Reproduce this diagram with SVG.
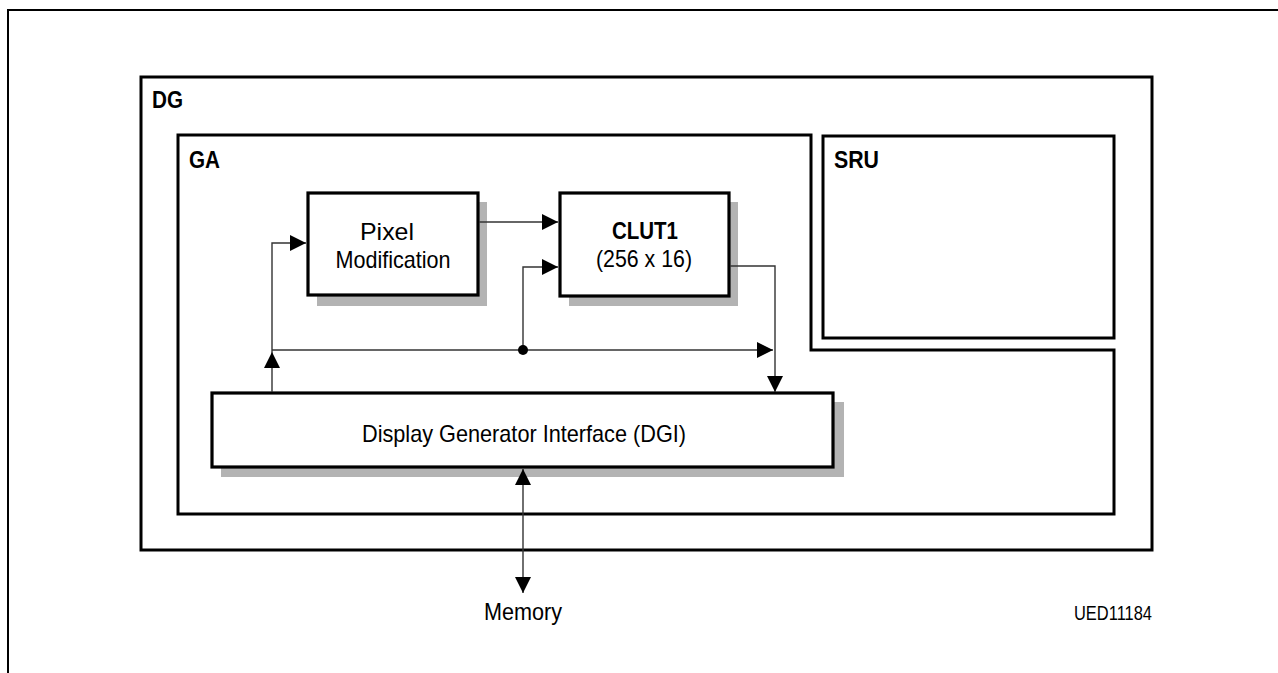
<svg xmlns="http://www.w3.org/2000/svg" width="1278" height="673" viewBox="0 0 1278 673">
<style>
.frame{fill:none;stroke:#000;stroke-width:3}
.box{fill:#fff;stroke:#000;stroke-width:3.2}
.shadow{fill:#b3b3b3}
.wire{fill:none;stroke:#333;stroke-width:1.4}
.lbl{font-family:"Liberation Sans",Arial,sans-serif;font-weight:bold;font-size:24px;fill:#000}
.txt{font-family:"Liberation Sans",Arial,sans-serif;font-size:24px;fill:#000}
.bold{font-weight:bold}
</style>
<defs>
<marker id="ah" markerUnits="userSpaceOnUse" markerWidth="16" markerHeight="16" viewBox="0 0 15 15" refX="15" refY="7.5" orient="auto-start-reverse">
<path d="M0,0 L15,7.5 L0,15 z" fill="#000"/>
</marker>
</defs>
<rect width="1278" height="673" fill="#fff"/>
<g id="page-frame">
<path d="M8,673 V10 H1278" fill="none" stroke="#000" stroke-width="2"/>
</g>
<g id="DG">
<rect class="frame" x="141" y="77" width="1011" height="473"/>
<text class="lbl" x="152" y="108" textLength="31" lengthAdjust="spacingAndGlyphs">DG</text>
</g>
<g id="GA">
<path class="frame" d="M178,135 H811 V350 H1114 V514 H178 Z"/>
<text class="lbl" x="189" y="168" textLength="31" lengthAdjust="spacingAndGlyphs">GA</text>
</g>
<g id="SRU">
<rect class="frame" x="823" y="136" width="291" height="202"/>
<text class="lbl" x="834" y="168" textLength="45" lengthAdjust="spacingAndGlyphs">SRU</text>
</g>
<g id="pixel-modification">
<rect class="shadow" x="317" y="202" width="170" height="104"/>
<rect class="box" x="308" y="193" width="170" height="102"/>
<text class="txt" x="387" y="240" text-anchor="middle" textLength="54" lengthAdjust="spacingAndGlyphs">Pixel</text>
<text class="txt" x="393" y="268" text-anchor="middle" textLength="115" lengthAdjust="spacingAndGlyphs">Modification</text>
</g>
<g id="CLUT1">
<rect class="shadow" x="569" y="202" width="169" height="104"/>
<rect class="box" x="560" y="193" width="169" height="103"/>
<text class="txt bold" x="645" y="239" text-anchor="middle" textLength="66" lengthAdjust="spacingAndGlyphs">CLUT1</text>
<text class="txt" x="644" y="267" text-anchor="middle" textLength="96" lengthAdjust="spacingAndGlyphs">(256 x 16)</text>
</g>
<g id="DGI">
<rect class="shadow" x="221" y="402" width="623" height="75"/>
<rect class="box" x="212" y="393" width="621" height="74"/>
<text class="txt" x="524" y="442" text-anchor="middle" textLength="324" lengthAdjust="spacingAndGlyphs">Display Generator Interface (DGI)</text>
</g>
<g id="connectors">
<path class="wire" d="M479,222 H558" marker-end="url(#ah)"/>
<path class="wire" d="M272,392 V352" marker-end="url(#ah)"/>
<path class="wire" d="M272,352 V243 H306" marker-end="url(#ah)"/>
<path class="wire" d="M272,350 H773" marker-end="url(#ah)"/>
<path class="wire" d="M523,350 V267 H558" marker-end="url(#ah)"/>
<circle cx="523" cy="350" r="5" fill="#000"/>
<path class="wire" d="M730,266 H775 V392" marker-end="url(#ah)"/>
<path class="wire" d="M523,469 V593" marker-start="url(#ah)" marker-end="url(#ah)"/>
</g>
<g id="memory">
<text class="txt" x="523" y="620" text-anchor="middle" textLength="78" lengthAdjust="spacingAndGlyphs">Memory</text>
</g>
<text x="1152" y="620" text-anchor="end" font-family="'Liberation Sans',Arial,sans-serif" font-size="20" textLength="78" lengthAdjust="spacingAndGlyphs">UED11184</text>
</svg>
